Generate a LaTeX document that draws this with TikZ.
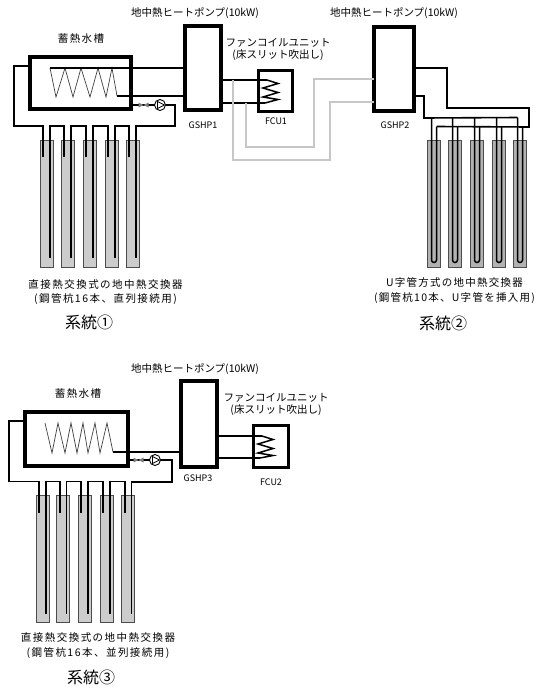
\documentclass[tikz,border=0pt]{standalone}
\usepackage{fontspec}
\setmainfont{Noto Sans CJK JP}
\newfontfamily\widecjk[LetterSpace=14]{Noto Sans CJK JP}
\newfontfamily\wideucjk[LetterSpace=12]{Noto Sans CJK JP}
\tikzset{
  tank/.style={draw,line width=3.5pt,inner sep=0pt,outer sep=0pt},
  gshp/.style={draw,line width=3.2pt,inner sep=0pt,outer sep=0pt},
  fcu/.style={draw,line width=3pt,inner sep=0pt,outer sep=0pt},
  pile/.style={draw=black!70,fill=black!20,line width=0.8pt,inner sep=0pt,outer sep=0pt,
               minimum width=13pt,minimum height=127pt},
  upile/.style={pile,fill=black!30},
  pipe/.style={draw,line width=1.6pt,line join=miter},
  upipe/.style={draw,line width=1.5pt},
  graypipe/.style={draw=black!22,line width=1.3pt},
  coil/.style={draw=black!75,line width=0.7pt},
  fcoil/.style={draw,line width=1.5pt},
  pump/.style={draw,circle,fill=white,line width=0.9pt,inner sep=0pt,outer sep=0pt,minimum size=11pt},
  lbl/.style={inner sep=0pt,font=\fontsize{10.5pt}{12pt}\selectfont},
  widelbl/.style={inner sep=0pt,font=\widecjk\fontsize{10.5pt}{14.5pt}\selectfont},
  wideulbl/.style={inner sep=0pt,font=\wideucjk\fontsize{10.5pt}{14.5pt}\selectfont},
  small/.style={inner sep=0pt,font=\fontsize{9pt}{11pt}\selectfont},
  big/.style={inner sep=0pt,font=\fontsize{16pt}{18pt}\selectfont},
  valve/.pic={\fill[black!50] (-5,-2.5) -- (5,2.5) -- (5,-2.5) -- (-5,2.5) -- cycle;}
}
\begin{document}
\begin{tikzpicture}[x=1pt,y=-1pt]
  \useasboundingbox (0,0) rectangle (539,689);

  % system 1
  \node[tank,minimum width=101pt,minimum height=52pt] (tankA) at (80.5,83) {};
  \node[gshp,minimum width=36pt,minimum height=84pt] (gshpA) at (203,68) {};
  \node[fcu,minimum width=34pt,minimum height=41pt] (fcuA) at (275,90.5) {};
  \node[pump] (pumpA) at (160,105) {};
  \foreach \x/\n in {46.5/1,67.5/2,89.5/3,111.5/4,132.5/5}
    \node[pile] (pileA\n) at (\x,203.5) {};
  \coordinate (coilAin) at (50,68);
  \coordinate (coilAout) at (117,96);
  \draw[coil] (coilAin) -- (56,97) -- (65,68) -- (73,97) -- (81,68) -- (90,97) -- (98,68)
    -- (106,97) -- (112,68) -- (coilAout);
  \draw[pipe] (gshpA.west |- coilAin) -- (coilAin);
  \draw[pipe] (coilAout) -- (gshpA.west |- coilAout);
  \draw[pipe] (tankA.east |- pumpA) -- (pumpA.west);
  \pic at (143.5,105) {valve};
  \draw[fill=white,line width=0.8pt] (157.5,101.5) -- (164.5,105) -- (157.5,108.5) -- cycle;
  \draw[pipe] (pumpA.east) -| (175,126) -| ([xshift=3.3pt,yshift=-118pt]pileA5.north);
  \draw[pipe] ([xshift=-3.3pt,yshift=-17pt]pileA1.north) -- ++(0,-31) -| (14,66)
    -- (tankA.west |- 0,66);
  \foreach \a/\b in {1/2,2/3,3/4,4/5}
    \draw[pipe] ([xshift=3.3pt,yshift=-118pt]pileA\a.north) -- ++(0,-132)
      -| ([xshift=-3.3pt,yshift=-17pt]pileA\b.north);
  \draw[pipe] (gshpA.east |- 0,80) -- (267,80);
  \draw[pipe] (gshpA.east |- 0,103) -- (265,103);
  \draw[fcoil] (267,80) -- (278,83.5) -- (263,88) -- (278,92.5) -- (263,97) -- (278,99.5) -- (265,103);

  % gray pipes between system 1 and system 2
  \node[gshp,minimum width=40pt,minimum height=84pt] (gshpB) at (394,69) {};
  \draw[graypipe] (233,80) -- (233,160) -- (330,160) -- (330,102) -- (gshpB.west |- 0,102);
  \draw[graypipe] (246,103) -- (246,147) -- (314,147) -- (314,79) -- (gshpB.west |- 0,79);

  % system 2
  \foreach \x/\n in {434/1,455/2,477/3,499/4,520/5}
    \node[upile] (pileB\n) at (\x,204) {};
  \foreach \n in {1,...,5} {
    \draw[upipe,rounded corners=2.5pt] ([xshift=-2.5pt,yshift=23pt]pileB\n.north)
      -- ([xshift=-2.5pt,yshift=-122pt]pileB\n.north)
      -- ([xshift=2.5pt,yshift=-122pt]pileB\n.north)
      -- ([xshift=2.5pt,yshift=14pt]pileB\n.north);
  }
  \draw[pipe] (gshpB.east |- 0,68) -| (447,108) -| (529,127)
    -- ([xshift=2.5pt,yshift=14pt]pileB1.north);
  \draw[pipe] (gshpB.east |- 0,96) -| (424,118) -- ([xshift=-2.5pt,yshift=23pt]pileB5.north);

  % system 3
  \node[tank,minimum width=103pt,minimum height=54pt] (tankC) at (76.5,439) {};
  \node[gshp,minimum width=36pt,minimum height=86pt] (gshpC) at (199,424) {};
  \node[fcu,minimum width=35pt,minimum height=42pt] (fcuC) at (270.5,446) {};
  \node[pump] (pumpC) at (155,460) {};
  \foreach \x/\n in {42.5/1,63/2,84.5/3,106.5/4,128/5}
    \node[pile] (pileC\n) at (\x,559) {};
  \coordinate (coilCin) at (45,423);
  \coordinate (coilCout) at (113,452);
  \draw[coil] (coilCin) -- (52,453) -- (58,423) -- (65,453) -- (71,423) -- (77,453) -- (83,423)
    -- (88,453) -- (95,423) -- (100,453) -- (107,423) -- (coilCout);
  \draw[pipe] (coilCout) -- (gshpC.west |- coilCout);
  \draw[pipe] (tankC.east |- pumpC) -- (pumpC.west);
  \pic at (138.5,460) {valve};
  \draw[fill=white,line width=0.8pt] (152.5,456.5) -- (159.5,460) -- (152.5,463.5) -- cycle;
  \draw[pipe] (pumpC.east) -| (172,482) -| ([xshift=3.3pt,yshift=-118pt]pileC5.north);
  \draw[pipe] ([xshift=-3.3pt,yshift=-17pt]pileC1.north) -- ++(0,-31) -| (9,421)
    -- (tankC.west |- 0,421);
  \foreach \a/\b in {1/2,2/3,3/4,4/5}
    \draw[pipe] ([xshift=3.3pt,yshift=-118pt]pileC\a.north) -- ++(0,-132)
      -| ([xshift=-3.3pt,yshift=-17pt]pileC\b.north);
  \draw[pipe] (gshpC.east |- 0,436) -- (262,436);
  \draw[pipe] (gshpC.east |- 0,458) -- (260,458);
  \draw[fcoil] (262,436) -- (273,439.5) -- (258,444) -- (273,448.5) -- (258,453) -- (273,455.5) -- (260,458);

  % labels
  \node[lbl] (titleA) at (195,13) {地中熱ヒートポンプ(10kW)};
  \node[lbl] (titleB) at (394,13) {地中熱ヒートポンプ(10kW)};
  \node[lbl] (titleC) at (195,369) {地中熱ヒートポンプ(10kW)};
  \node[widelbl] (nameA) at (81,39) {蓄熱水槽};
  \node[widelbl] (nameC) at (78,394) {蓄熱水槽};
  \node[lbl,align=center] (unitA) at (278,49.5) {ファンコイルユニット\\(床スリット吹出し)};
  \node[lbl,align=center] (unitC) at (276,404) {ファンコイルユニット\\(床スリット吹出し)};
  \node[small] (labelA) at (203,125) {GSHP1};
  \node[small] (labelB) at (395,125) {GSHP2};
  \node[small] (labelC) at (198,478) {GSHP3};
  \node[small] (labelD) at (276,121) {FCU1};
  \node[small] (labelE) at (271,482) {FCU2};
  \node[widelbl,align=center] (hexA) at (105.5,292) {直接熱交換式の地中熱交換器\\(鋼管杭16本、直列接続用)};
  \node[wideulbl,align=center] (hexB) at (454.5,290.5) {U字管方式の地中熱交換器\\(鋼管杭10本、U字管を挿入用)};
  \node[widelbl,align=center] (hexC) at (98,645.5) {直接熱交換式の地中熱交換器\\(鋼管杭16本、並列接続用)};
  \node[big] (sysA) at (89,322) {系統①};
  \node[big] (sysB) at (443,323) {系統②};
  \node[big] (sysC) at (91,677) {系統③};
\end{tikzpicture}
\end{document}
